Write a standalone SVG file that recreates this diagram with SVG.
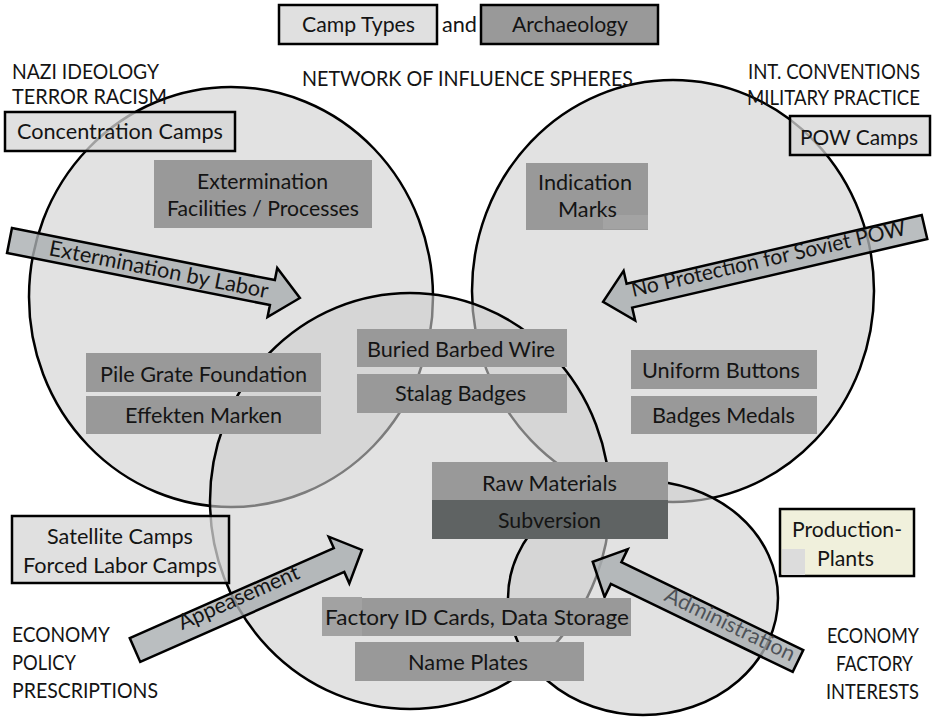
<svg xmlns="http://www.w3.org/2000/svg" width="935" height="717" viewBox="0 0 935 717">
<style>
.circ{fill:#cfcfcf;fill-opacity:0.6;stroke:#000;stroke-width:2.5}
.lbox{fill:#d6d6d6;fill-opacity:0.75;stroke:#000;stroke-width:2.5}
.dbox{fill:#999}
.arrow{fill:#a9aeb0;fill-opacity:0.8;stroke:#000;stroke-width:2.5}
text{font-family:Lato,"Liberation Sans",sans-serif;font-size:21.5px;fill:#141414}
.m{text-anchor:middle}
.e{text-anchor:end}
</style>
<rect width="935" height="717" fill="#fff"/>
<g id="spheres">
<ellipse id="sphere-nazi" class="circ" cx="231" cy="297" rx="202" ry="210"/>
<ellipse id="sphere-int" class="circ" cx="673" cy="291" rx="201" ry="211"/>
<ellipse id="sphere-policy" class="circ" cx="410" cy="501" rx="200" ry="208"/>
<ellipse id="sphere-factory" class="circ" cx="643" cy="598" rx="135" ry="117"/>
</g>
<g id="legend">
<g id="legend-camp"><rect class="lbox" x="279" y="5" width="158" height="39" style="fill-opacity:1;fill:#e0e0e0"/><text class="m" x="358.5" y="32" textLength="113" lengthAdjust="spacingAndGlyphs">Camp Types</text></g>
<text x="442" y="32" textLength="35" lengthAdjust="spacingAndGlyphs">and</text>
<g id="legend-arch"><rect x="481" y="5" width="177" height="39" fill="#999" stroke="#000" stroke-width="2.5"/><text class="m" x="570" y="32" textLength="116" lengthAdjust="spacingAndGlyphs">Archaeology</text></g>
<text x="302" y="86" textLength="331" lengthAdjust="spacingAndGlyphs">NETWORK OF INFLUENCE SPHERES</text>
</g>
<g id="label-nazi">
<text x="12" y="79" textLength="147" lengthAdjust="spacingAndGlyphs">NAZI IDEOLOGY</text>
<text x="12" y="104" textLength="155" lengthAdjust="spacingAndGlyphs">TERROR RACISM</text>
</g>
<g id="label-int">
<text class="e" x="920" y="79" textLength="172" lengthAdjust="spacingAndGlyphs">INT. CONVENTIONS</text>
<text class="e" x="920" y="105" textLength="173" lengthAdjust="spacingAndGlyphs">MILITARY PRACTICE</text>
</g>
<g id="label-policy">
<text x="12" y="642" textLength="98" lengthAdjust="spacingAndGlyphs">ECONOMY</text>
<text x="12" y="670" textLength="64" lengthAdjust="spacingAndGlyphs">POLICY</text>
<text x="12" y="698" textLength="146" lengthAdjust="spacingAndGlyphs">PRESCRIPTIONS</text>
</g>
<g id="label-factory">
<text class="m" x="873" y="643" textLength="92" lengthAdjust="spacingAndGlyphs">ECONOMY</text>
<text class="m" x="874.5" y="671" textLength="77" lengthAdjust="spacingAndGlyphs">FACTORY</text>
<text class="m" x="872.5" y="699" textLength="93" lengthAdjust="spacingAndGlyphs">INTERESTS</text>
</g>
<g id="connectors">
<g id="arrow-labor" transform="translate(9.5,240.5) rotate(11.2)">
<path class="arrow" d="M0,-12.7 L268,-12.7 L268,-25 L296,0 L268,25 L268,12.7 L0,12.7 Z"/>
<text x="40.6" y="6.7" textLength="223" lengthAdjust="spacingAndGlyphs">Extermination by Labor</text>
</g>
<g id="arrow-soviet">
<path class="arrow" transform="translate(924.5,227) rotate(166.9)" d="M0,-12.3 L303,-12.3 L303,-25.5 L330,0 L303,25.5 L303,12.3 L0,12.3 Z"/>
<text transform="translate(633,297) rotate(-12.8)" x="0" y="0" textLength="281" lengthAdjust="spacingAndGlyphs">No Protection for Soviet POW</text>
</g>
<g id="arrow-appeasement" transform="translate(135,650) rotate(-23.8)">
<path class="arrow" d="M0,-13 L223,-13 L223,-25.5 L248,0 L223,25.5 L223,13 L0,13 Z"/>
<text x="51" y="1" textLength="130" lengthAdjust="spacingAndGlyphs">Appeasement</text>
</g>
<g id="arrow-administration">
<path class="arrow" transform="translate(798,661) rotate(-154.2)" d="M0,-12.1 L202,-12.1 L202,-26.6 L228,0 L202,26.6 L202,12.1 L0,12.1 Z"/>
<text transform="translate(663,600) rotate(25.8)" x="0" y="0" textLength="142" lengthAdjust="spacingAndGlyphs" style="fill:#3a3f46;fill-opacity:0.85">Administration</text>
</g>
</g>
<g id="node-concentration"><rect class="lbox" x="5" y="112" width="230" height="39"/><text class="m" x="120" y="139" textLength="206" lengthAdjust="spacingAndGlyphs">Concentration Camps</text></g>
<g id="node-pow"><rect class="lbox" x="790" y="116" width="140" height="39"/><text class="m" x="859" y="145" textLength="118" lengthAdjust="spacingAndGlyphs">POW Camps</text></g>
<g id="node-satellite"><rect class="lbox" x="12" y="516" width="217" height="67"/><text class="m" x="120" y="544" textLength="146" lengthAdjust="spacingAndGlyphs">Satellite Camps</text><text class="m" x="120" y="573" textLength="194" lengthAdjust="spacingAndGlyphs">Forced Labor Camps</text></g>
<g id="node-production"><rect x="780" y="509" width="134" height="67" fill="#f0f0dc" stroke="#000" stroke-width="2.5"/><rect x="782" y="549" width="23" height="26" fill="#dcdcdc"/><text class="m" x="847" y="537" textLength="110" lengthAdjust="spacingAndGlyphs">Production-</text><text class="m" x="845.5" y="566" textLength="57" lengthAdjust="spacingAndGlyphs">Plants</text></g>
<g id="node-extermination"><rect class="dbox" x="154" y="160" width="218" height="68"/><text class="m" x="262.5" y="189" textLength="131" lengthAdjust="spacingAndGlyphs">Extermination</text><text class="m" x="263" y="216" textLength="192" lengthAdjust="spacingAndGlyphs">Facilities / Processes</text></g>
<g id="node-indication"><rect class="dbox" x="526" y="163" width="122" height="67"/><rect x="603" y="215" width="45" height="14" fill="#a3a3a3"/><text class="m" x="585" y="190" textLength="94" lengthAdjust="spacingAndGlyphs">Indication</text><text class="m" x="587.5" y="217" textLength="59" lengthAdjust="spacingAndGlyphs">Marks</text></g>
<g id="node-pile"><rect class="dbox" x="86" y="353" width="235" height="39"/><text class="m" x="203.5" y="382" textLength="207" lengthAdjust="spacingAndGlyphs">Pile Grate Foundation</text></g>
<g id="node-effekten"><rect class="dbox" x="86" y="396" width="235" height="38"/><text class="m" x="203.5" y="423" textLength="157" lengthAdjust="spacingAndGlyphs">Effekten Marken</text></g>
<g id="node-wire"><rect class="dbox" x="357" y="329" width="210" height="38"/><text class="m" x="461" y="357" textLength="188" lengthAdjust="spacingAndGlyphs">Buried Barbed Wire</text></g>
<g id="node-stalag"><rect class="dbox" x="357" y="374" width="210" height="39"/><text class="m" x="460.5" y="401" textLength="131" lengthAdjust="spacingAndGlyphs">Stalag Badges</text></g>
<g id="node-buttons"><rect class="dbox" x="631" y="350" width="186" height="39"/><text class="m" x="721" y="378" textLength="158" lengthAdjust="spacingAndGlyphs">Uniform Buttons</text></g>
<g id="node-medals"><rect class="dbox" x="631" y="396" width="186" height="38"/><text class="m" x="723.5" y="423" textLength="143" lengthAdjust="spacingAndGlyphs">Badges Medals</text></g>
<g id="node-raw"><rect class="dbox" x="432" y="462" width="236" height="38"/><text class="m" x="549.5" y="491" textLength="135" lengthAdjust="spacingAndGlyphs">Raw Materials</text></g>
<g id="node-subversion"><rect x="432" y="500" width="236" height="39" fill="#5f6363"/><text class="m" x="549.5" y="528" textLength="103" lengthAdjust="spacingAndGlyphs">Subversion</text></g>
<g id="node-factoryid"><rect class="dbox" x="322" y="598" width="309" height="38"/><rect x="322" y="597" width="40" height="39" fill="#a2a2a2"/><text class="m" x="477" y="625" textLength="304" lengthAdjust="spacingAndGlyphs">Factory ID Cards, Data Storage</text></g>
<g id="node-nameplates"><rect class="dbox" x="355" y="642" width="229" height="39"/><text class="m" x="468" y="670" textLength="120" lengthAdjust="spacingAndGlyphs">Name Plates</text></g>
</svg>
